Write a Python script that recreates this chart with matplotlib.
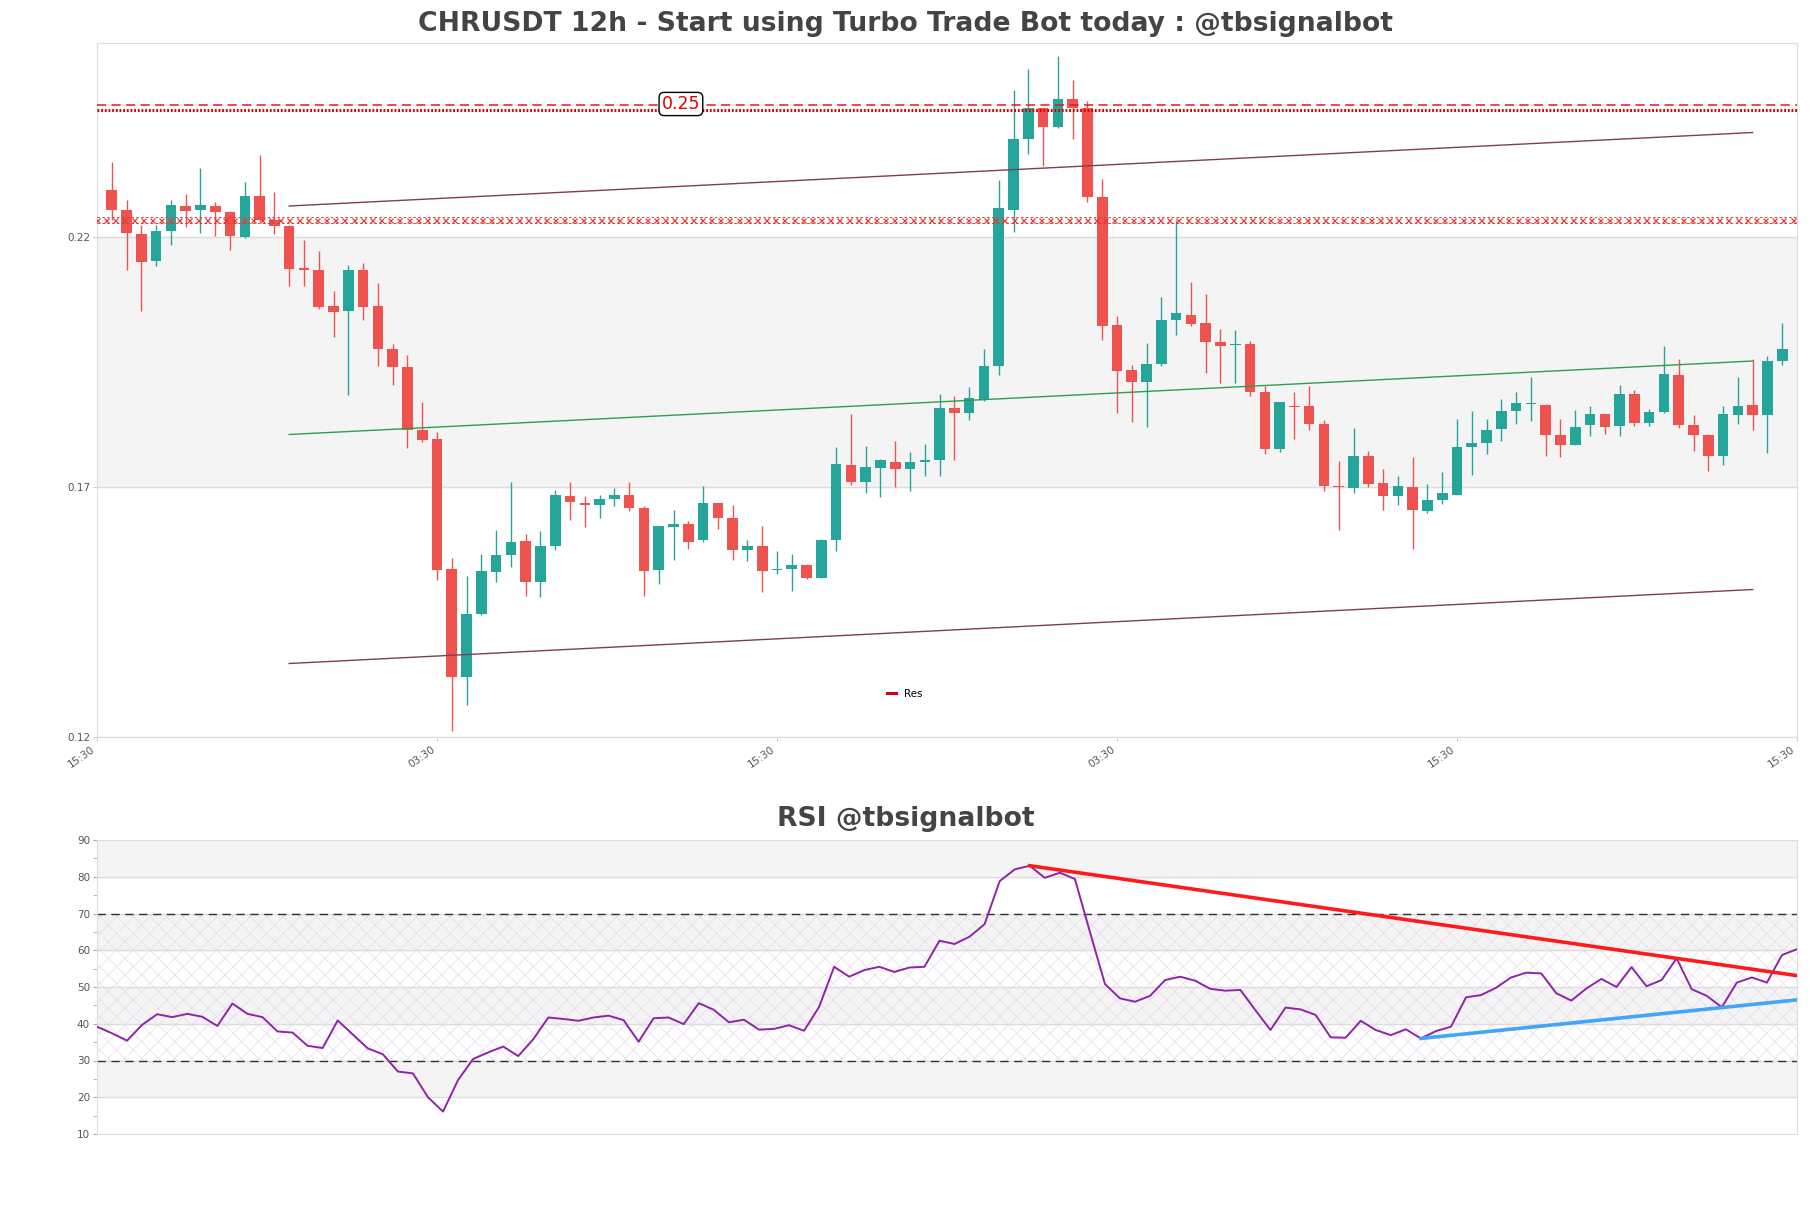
import numpy as np
import matplotlib
matplotlib.use("Agg")
import matplotlib.pyplot as plt
from matplotlib.ticker import MultipleLocator

# ---------------- data ----------------
opens = [.2294, .2254, .2206, .2151, .2211, .2262, .2253, .2262, .2250, .2199,
         .2282, .2234, .2222, .2138, .2134, .2062, .2051, .2134, .2061, .1976,
         .1940, .1814, .1795, .1536, .1319, .1446, .1529, .1563, .1592, .1509,
         .1581, .1682, .1668, .1663, .1675, .1684, .1658, .1533, .1619, .1626,
         .1593, .1668, .1638, .1573, .1582, .1533, .1535, .1543, .1518, .1594,
         .1744, .1709, .1737, .1750, .1735, .1749, .1753, .1858, .1847, .1873,
         .1941, .2254, .2395, .2457, .2419, .2476, .2457, .2279, .2024, .1933,
         .1909, .1945, .2033, .2044, .2027, .1989, .1983, .1986, .1890, .1776,
         .1862, .1862, .1825, .1702, .1697, .1762, .1707, .1681, .1699, .1651,
         .1674, .1684, .1779, .1787, .1815, .1851, .1865, .1864, .1804, .1783,
         .1823, .1846, .1821, .1886, .1827, .1850, .1924, .1823, .1803, .1761,
         .1843, .1864, .1843, .1952]
highs = [.2350, .2274, .2224, .2224, .2274, .2285, .2337, .2269, .2252, .2310,
         .2364, .2290, .2224, .2194, .2171, .2092, .2143, .2147, .2107, .1986,
         .1964, .1870, .1809, .1557, .1521, .1566, .1614, .1710, .1606, .1612,
         .1694, .1709, .1681, .1684, .1697, .1709, .1662, .1622, .1654, .1632,
         .1701, .1668, .1664, .1594, .1622, .1572, .1566, .1546, .1596, .1779,
         .1846, .1782, .1755, .1792, .1770, .1786, .1886, .1881, .1899, .1975,
         .2314, .2494, .2536, .2457, .2563, .2514, .2471, .2316, .2041, .1944,
         .1987, .2079, .2234, .2109, .2086, .2016, .2014, .1991, .1901, .1870,
         .1889, .1901, .1833, .1751, .1817, .1772, .1735, .1722, .1759, .1705,
         .1729, .1836, .1852, .1836, .1875, .1890, .1919, .1866, .1835, .1854,
         .1861, .1846, .1904, .1894, .1856, .1982, .1955, .1844, .1806, .1862,
         .1919, .1955, .1961, .2027]
lows = [.2234, .2134, .2052, .2141, .2184, .2219, .2207, .2202, .2174, .2197,
        .2230, .2206, .2101, .2102, .2055, .2000, .1883, .2033, .1941, .1903,
        .1777, .1789, .1513, .1211, .1264, .1444, .1509, .1539, .1482, .1479,
        .1574, .1634, .1619, .1637, .1662, .1651, .1482, .1506, .1554, .1576,
        .1589, .1616, .1554, .1551, .1489, .1525, .1491, .1515, .1517, .1571,
        .1704, .1687, .1679, .1699, .1691, .1721, .1721, .1753, .1833, .1871,
        .1924, .2209, .2366, .2342, .2417, .2396, .2269, .1993, .1847, .1829,
        .1819, .1941, .2004, .2021, .1927, .1907, .1907, .1881, .1766, .1769,
        .1796, .1813, .1691, .1613, .1687, .1699, .1654, .1664, .1575, .1647,
        .1665, .1684, .1723, .1765, .1791, .1825, .1831, .1761, .1759, .1783,
        .1801, .1805, .1801, .1821, .1821, .1847, .1817, .1771, .1731, .1743,
        .1825, .1813, .1767, .1944]
closes = [.2253, .2207, .2149, .2212, .2264, .2251, .2264, .2249, .2201, .2282,
          .2234, .2221, .2136, .2133, .2060, .2049, .2134, .2059, .1975, .1939,
          .1813, .1794, .1533, .1319, .1446, .1532, .1564, .1589, .1509, .1582,
          .1684, .1669, .1663, .1676, .1684, .1657, .1531, .1622, .1626, .1589,
          .1668, .1637, .1573, .1582, .1531, .1536, .1543, .1518, .1594, .1746,
          .1709, .1739, .1753, .1735, .1750, .1754, .1858, .1847, .1878, .1942,
          .2257, .2396, .2457, .2419, .2476, .2457, .2279, .2022, .1931, .1909,
          .1946, .2034, .2047, .2026, .1989, .1981, .1984, .1889, .1776, .1869,
          .1859, .1825, .1701, .1699, .1762, .1706, .1681, .1702, .1653, .1674,
          .1687, .1780, .1787, .1814, .1852, .1868, .1866, .1803, .1783, .1820,
          .1846, .1819, .1886, .1827, .1850, .1926, .1823, .1803, .1761, .1845,
          .1862, .1843, .1952, .1976]

rsi = [39.2, 37.4, 35.4, 39.7, 42.6, 41.8, 42.7, 41.9, 39.4, 45.5,
       42.7, 41.8, 37.9, 37.6, 34.0, 33.4, 40.9, 37.1, 33.3, 31.7,
       27.0, 26.5, 20.0, 16.1, 24.7, 30.4, 32.2, 33.8, 31.2, 35.8,
       41.7, 41.3, 40.8, 41.7, 42.2, 41.0, 35.1, 41.5, 41.7, 39.9,
       45.6, 43.8, 40.4, 41.1, 38.4, 38.6, 39.6, 38.1, 44.6, 55.5,
       52.8, 54.6, 55.5, 54.1, 55.3, 55.5, 62.6, 61.7, 63.7, 67.1,
       78.8, 82.0, 83.0, 79.7, 81.1, 79.4, 65.0, 50.8, 46.9, 46.0,
       47.6, 51.9, 52.8, 51.7, 49.5, 49.0, 49.2, 43.7, 38.3, 44.4,
       43.9, 42.4, 36.3, 36.2, 40.8, 38.3, 36.9, 38.5, 36.0, 38.0,
       39.2, 47.2, 47.8, 49.8, 52.6, 53.9, 53.7, 48.3, 46.3, 49.6,
       52.2, 50.0, 55.4, 50.2, 51.9, 57.8, 49.4, 47.6, 44.5, 51.2,
       52.6, 51.2, 58.7, 60.3]

xtick_pos = [-1, 22, 45, 68, 91, 114]
xtick_labels = ["15:30", "03:30", "15:30", "03:30", "15:30", "15:30"]
price_ticks = [0.12, 0.17, 0.22]

res_dashed = 0.2463
res_dotted = 0.2453
res_label = "0.25"
xline_level = 0.2233

chan_x = [12, 111]
chan_upper = [0.2262, 0.2409]
chan_mid = [0.1805, 0.1952]
chan_lower = [0.1347, 0.1495]

rsi_res_x = [62, 113]
rsi_res_y = [83.0, 53.1]
rsi_sup_x = [88, 113]
rsi_sup_y = [36.0, 46.5]

# ---------------- figure ----------------
W, H = 1811, 1208
plt.rcParams["hatch.linewidth"] = 0.45
fig = plt.figure(figsize=(W / 100, H / 100), dpi=100)
ax = fig.add_axes([97 / W, 1 - 737 / H, 1700 / W, 694 / H])
ax2 = fig.add_axes([97 / W, 1 - 1134 / H, 1700 / W, 294 / H])

UP = "#26a69a"
DN = "#ef5350"
GRID = "#dddddd"
TXT = "#555555"

o = np.array(opens); h = np.array(highs); l = np.array(lows); c = np.array(closes)
x = np.arange(len(o))
cols = np.where(c >= o, UP, DN)

ax.set_xlim(-1, 114)
ax.set_ylim(0.12, 0.2588)
ax.axhspan(0.17, 0.22, color="#f4f4f4", zorder=0)
for t in price_ticks:
    ax.axhline(t, color=GRID, lw=1, zorder=0.5)

ax.vlines(x, l, h, colors=cols, lw=1, zorder=2)
body_bot = np.minimum(o, c)
body_h = np.maximum(np.abs(c - o), 0.0002)
ax.bar(x, body_h, bottom=body_bot, width=0.72, color=cols, zorder=3, linewidth=0)

# resistance lines
ax.axhline(res_dashed, color="#e8141c", lw=1.1, dashes=(6, 3.5), zorder=4)
ax.axhline(res_dotted, color="#dd0000", lw=2.2, ls=(0, (0.6, 0.6)), zorder=4)
ax.text(38.5, res_dashed + 0.0003, res_label, color="#e00000", fontsize=12.5, ha="center", va="center",
        zorder=6, bbox=dict(boxstyle="round,pad=0.15,rounding_size=0.3", fc="white", ec="black", lw=1))

# marked line
ax.axhline(xline_level + 0.0006, color="#e53935", lw=0.7, dashes=(2.5, 2.5), zorder=4)
ax.axhline(xline_level - 0.0006, color="#e53935", lw=0.7, dashes=(2.5, 2.5), zorder=4)
xm = np.arange(-1, 114.01, 0.62)
ax.plot(xm, np.full_like(xm, xline_level), ls="none", marker="x", ms=3.6, mew=0.9, color="#e53935", zorder=4)

# channel
ax.plot(chan_x, chan_upper, color="#7b3f55", lw=1.0, zorder=4)
ax.plot(chan_x, chan_lower, color="#7b3f55", lw=1.0, zorder=4)
ax.plot(chan_x, chan_mid, color="#2e9e4a", lw=1.0, zorder=4)

ax.set_xticks(xtick_pos)
ax.set_xticklabels(xtick_labels, rotation=35, ha="right", fontsize=7.5, color=TXT)
ax.set_yticks(price_ticks)
ax.set_yticklabels([f"{t:.2f}" for t in price_ticks], fontsize=7.5, color=TXT)
ax.tick_params(axis="both", length=3, color="#cccccc", pad=2)
for s in ax.spines.values():
    s.set_color(GRID)
fig.text(0.5, 1 - 24 / H, "CHRUSDT 12h - Start using Turbo Trade Bot today : @tbsignalbot",
         fontsize=19.2, fontweight="bold", color="#444444", ha="center", va="center")
ax.legend(handles=[plt.Line2D([], [], color="#d0021b", lw=2.2)], labels=["Res"],
          loc="center left", bbox_to_anchor=(0.459, 0.062), frameon=False,
          fontsize=7.5, handlelength=0.9, handletextpad=0.8)

# ---------------- RSI ----------------
xr = np.arange(len(rsi))
ax2.set_xlim(0, len(rsi) - 1)
ax2.set_ylim(10, 90)
for lo in (20, 40, 60, 80):
    ax2.axhspan(lo, lo + 10, color="#f4f4f4", zorder=0)
ax2.fill_between([0, len(rsi) - 1], 30, 70, facecolor="none", edgecolor="#e6d6ec", hatch="xx", lw=0, zorder=0.6)
for t in range(20, 90, 10):
    ax2.axhline(t, color=GRID, lw=1, zorder=0.5)
ax2.axhline(70, color="#333333", lw=1, dashes=(6, 4), zorder=2)
ax2.axhline(30, color="#333333", lw=1, dashes=(6, 4), zorder=2)
ax2.plot(xr, rsi, color="#8e24aa", lw=1.4, zorder=3)
ax2.plot(rsi_res_x, rsi_res_y, color="#ff1a1a", lw=2.6, zorder=4)
ax2.plot(rsi_sup_x, rsi_sup_y, color="#42a5f5", lw=2.6, zorder=4)

ax2.yaxis.set_minor_locator(MultipleLocator(5))
ax2.set_yticks(range(10, 91, 10))
ax2.set_yticklabels([str(v) for v in range(10, 91, 10)], fontsize=7.5, color=TXT)
ax2.set_xticks([])
ax2.tick_params(axis="y", which="both", length=3, color="#aaaaaa", pad=2)
for s in ax2.spines.values():
    s.set_color(GRID)
fig.text(0.5, 1 - 819 / H, "RSI @tbsignalbot", fontsize=19.2, fontweight="bold",
         color="#444444", ha="center", va="center")

fig.savefig("out.png", dpi=100, facecolor="white")
